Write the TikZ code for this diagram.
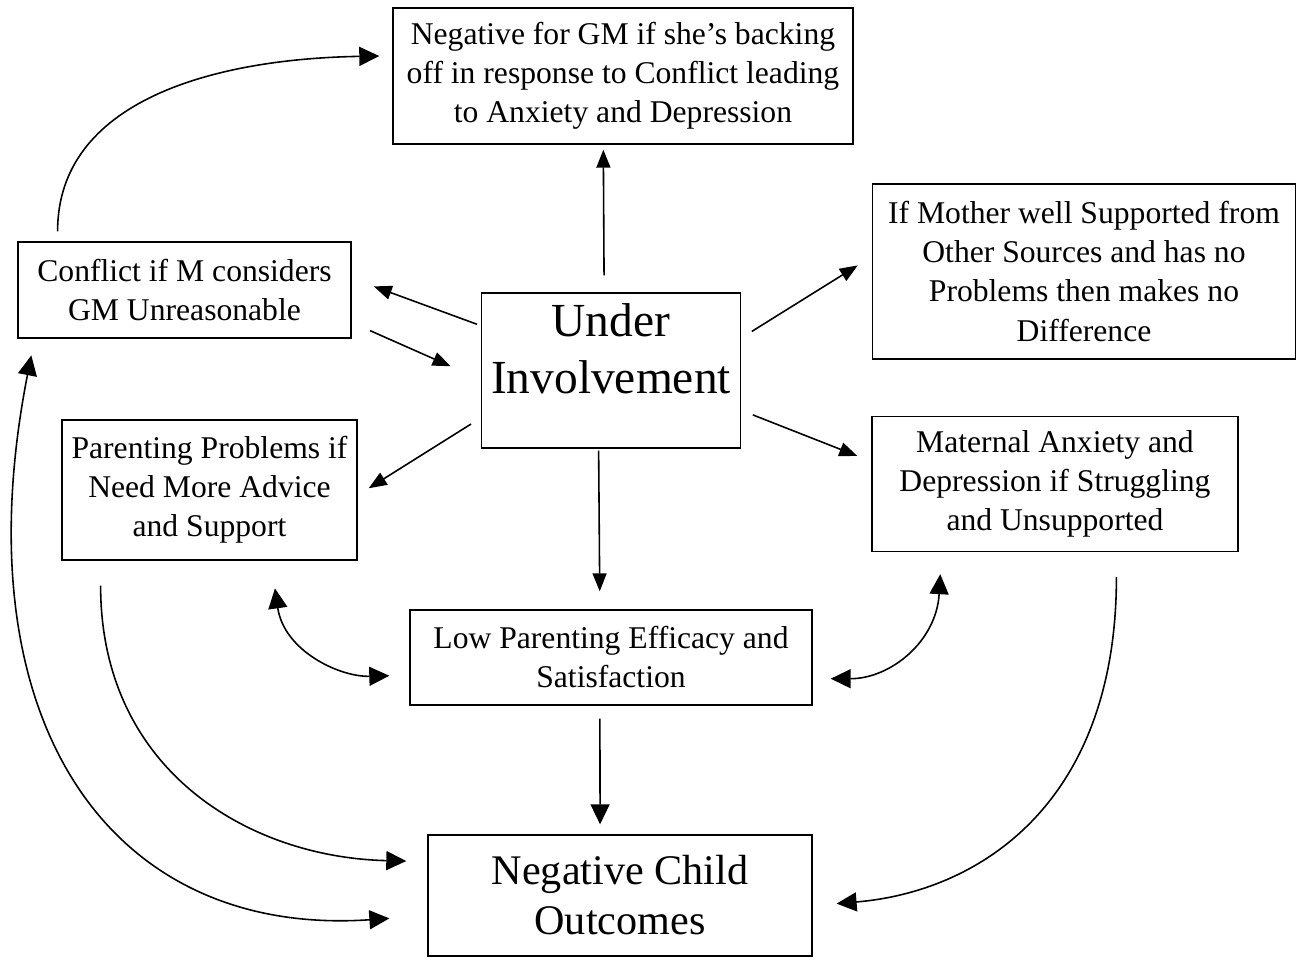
\documentclass[tikz,border=0pt]{standalone}
\usepackage{fontspec}
\setmainfont{Liberation Serif}
\usetikzlibrary{arrows.meta}
\tikzset{box/.style={draw, line width=0.8pt, align=center, inner sep=0pt,
                     font=\fontsize{18}{22.2}\selectfont},
         arr/.style={->, line width=0.9pt, >={Triangle[length=3.6mm,width=2.8mm]}},
         bigarr/.style={->, line width=0.9pt, >={Triangle[length=4mm,width=3.8mm]}}}

\begin{document}
\begin{tikzpicture}[x=0.2mm,y=-0.2mm]
                \useasboundingbox (0,0) rectangle (1297,959);
                \node (GM) [box, minimum width=92mm, minimum height=27.2mm] at (623,76)
                      {Negative for GM if she's backing\\off in response to Conflict leading\\to Anxiety and Depression};
                \node (S) [box, minimum width=84.6mm, minimum height=35mm] at (1084,271.5)
                      {If Mother well Supported from\\Other Sources and has no\\Problems then makes no\\Difference};
                \node (C) [box, minimum width=66.6mm, minimum height=19.2mm] at (184.5,290)
                      {Conflict if M considers\\GM Unreasonable};
                \node (U) [box, minimum width=51.8mm, minimum height=31mm,
                           font=\fontsize{27}{32.4}\selectfont] at (611,370.5)
                      {\raisebox{3.4mm}[\height][\depth]{\begin{tabular}{@{}c@{}}Under\\Involvement\end{tabular}}};
                \node (P) [box, minimum width=59mm, minimum height=28mm] at (209.5,490)
                      {Parenting Problems if\\Need More Advice\\and Support};
                \node (A) [box, minimum width=73.2mm, minimum height=27mm] at (1055,484)
                      {Maternal Anxiety and\\Depression if Struggling\\and Unsupported};
                \node (E) [box, minimum width=80.4mm, minimum height=19mm] at (611,657.5)
                      {Low Parenting Efficacy and\\Satisfaction};
                \node (O) [box, minimum width=76.8mm, minimum height=24.2mm,
                           font=\fontsize{24}{28.5}\selectfont] at (620,895.5)
                      {Negative Child\\Outcomes};
                % straight arrows out of Under Involvement
                \draw[arr, shorten <=3.4mm, shorten >=1mm]   (U.95.2)  to (GM.254.4);
                \draw[arr, shorten <=2.5mm, shorten >=3.3mm] (U.14.7)  to (S.176.8);
                \draw[arr, shorten <=0.8mm, shorten >=4.7mm] (U.161)   to (C.4.5);
                \draw[arr, shorten <=4mm, shorten >=6.6mm]   (C.349.9) to (U.184.8);
                \draw[arr, shorten <=2.3mm, shorten >=2.6mm] (U.200.7) to (P.358.2);
                \draw[arr, shorten <=2.5mm, shorten >=3mm]   (U.343.3) to (A.173.7);
                \draw[arr, shorten <=0.4mm, shorten >=3.6mm] (U.261.9) to (E.103);
                \draw[bigarr, shorten <=2.6mm, shorten >=2mm] (E.257) to (O.108.3);
                % curved arrows
                \draw[bigarr, shorten <=2mm, shorten >=2.6mm]
                      (C.159.7) .. controls +(0,-140) and +(-180,3) .. (GM.175.3);
                \draw[bigarr, <->, shorten <=3.4mm, shorten >=7.6mm]
                      (C.198.4) .. controls +(-75,382) and +(-318,22) .. (O.186.7);
                \draw[bigarr, shorten <=5mm, shorten >=4.2mm]
                      (P.213.3) .. controls +(0,210) and +(-178,-4) .. (O.170.7);
                \draw[bigarr, <->, shorten <=5.6mm, shorten >=4mm]
                      (P.311.8) .. controls +(13,90) and +(-70,2) .. (E.185.8);
                \draw[bigarr, <->, shorten <=4.4mm, shorten >=3.6mm]
                      (A.211.5) .. controls +(-5,89) and +(78,0) .. (E.354.2);
                \draw[bigarr, shorten <=5mm, shorten >=4.8mm]
                      (A.312.6) .. controls +(0,250) and +(168,-14) .. (O.357.5);
              \end{tikzpicture}
\end{document}
